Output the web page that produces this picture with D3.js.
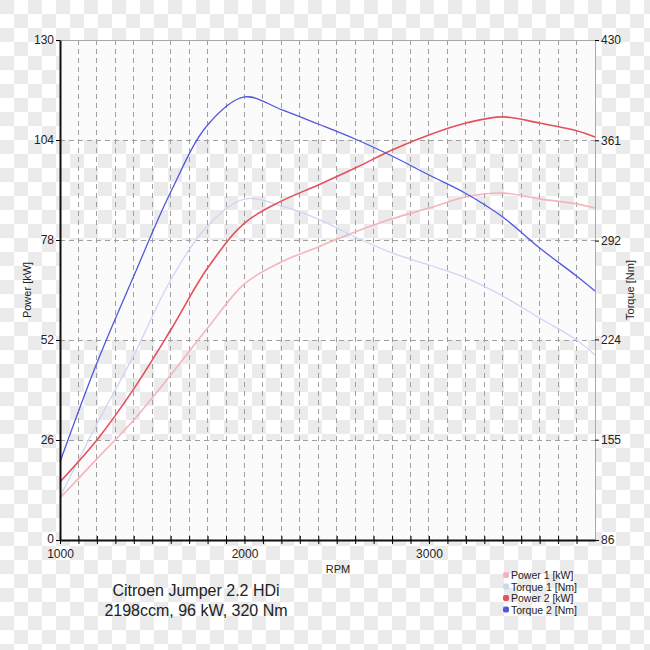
<!DOCTYPE html>
<html>
<head>
<meta charset="utf-8">
<script src="https://cdn.jsdelivr.net/npm/d3@7"></script>
<style>
  html, body { margin: 0; padding: 0; background: #fff; }
  svg text { font-family: "Liberation Sans", Arial, sans-serif; fill: #222; }
</style>
</head>
<body>
<div id="chart"></div>
<script>
// データ-------------------------------------------------------------------------------------
const rpm     = [1000, 1200, 1400, 1600, 1800, 2000, 2200, 2400, 2600, 2800, 3000, 3200, 3400, 3600, 3800, 3900];
const power1  = [10.9, 21.1, 31.2, 42.9, 55.1, 66.6, 72.3, 76.2, 80.1, 83.5, 86.3, 89.2, 90.2, 88.7, 87.4, 86.3];
const torque1 = [115.6, 165.8, 213.0, 264.9, 302.0, 320.6, 315.8, 306.8, 294.5, 283.5, 275.2, 266.3, 253.9, 238.7, 223.6, 213.3];
const power2  = [15.1, 26.0, 39.3, 54.6, 70.7, 82.4, 88.1, 92.3, 96.7, 101.4, 105.3, 108.4, 110.0, 108.4, 106.4, 104.8];
const torque2 = [139.7, 207.8, 267.6, 325.4, 371.5, 390.8, 382.1, 372.2, 361.9, 350.2, 337.1, 324.4, 308.2, 286.9, 267.6, 257.3];
const powerTicks  = [0, 26, 52, 78, 104, 130];
const torqueTicks = [86, 155, 224, 292, 361, 430];
const rpmLabels   = [1000, 2000, 3000];
const legendNames = ['Power 1 [kW]', 'Torque 1 [Nm]', 'Power 2 [kW]', 'Torque 2 [Nm]'];
const titleLines  = ['Citroen Jumper 2.2 HDi', '2198ccm, 96 kW, 320 Nm'];

const width = 650, height = 650;
const margin = { top: 40, bottom: 110, left: 60, right: 55 };
const colors = ['#f5b3bb', '#cdd5f6', '#e5505c', '#5057df'];

const svg = d3.select('#chart').append('svg')
  .attr('width', width)
  .attr('height', height);

// 市松模様の背景----------------------------------------------------------------------------
const defs = svg.append('defs');
const pat = defs.append('pattern')
  .attr('id', 'checker')
  .attr('width', 28).attr('height', 28)
  .attr('patternUnits', 'userSpaceOnUse');
pat.append('rect').attr('width', 28).attr('height', 28).attr('fill', '#ffffff');
pat.append('rect').attr('width', 14).attr('height', 14).attr('fill', '#ebebeb');
pat.append('rect').attr('x', 14).attr('y', 14).attr('width', 14).attr('height', 14).attr('fill', '#ebebeb');
svg.append('rect').attr('width', width).attr('height', height).attr('fill', 'url(#checker)');

// スケール------------------------------------------------------------------------------------
const xScale = d3.scaleLinear().domain([1000, 3900]).range([margin.left, width - margin.right]);
const yPower = d3.scaleLinear().domain([0, 130]).range([height - margin.bottom, margin.top]);
const yTorque = d3.scaleLinear().domain([86, 430]).range([height - margin.bottom, margin.top]);

// 帯 (白い帯と透明な帯が交互)------------------------------------------------------------
const bands = d3.pairs(powerTicks).filter((d, i) => i % 2 === 0);
svg.append('g').selectAll('rect').data(bands).enter().append('rect')
  .attr('x', xScale(1000))
  .attr('width', xScale(3900) - xScale(1000))
  .attr('y', d => yPower(d[1]))
  .attr('height', d => yPower(d[0]) - yPower(d[1]))
  .attr('fill', '#fbfbfb');

// グリッド------------------------------------------------------------------------------------
const gridRpm = d3.range(1100, 3900, 100);
svg.append('g').selectAll('line').data(gridRpm).enter().append('line')
  .attr('x1', d => xScale(d)).attr('x2', d => xScale(d))
  .attr('y1', yPower(130)).attr('y2', yPower(0))
  .attr('stroke', '#a0a0a0').attr('stroke-width', 1)
  .attr('stroke-dasharray', '5,4')
  .attr('shape-rendering', 'crispEdges');
svg.append('g').selectAll('line').data(powerTicks.slice(1, -1)).enter().append('line')
  .attr('x1', xScale(1000)).attr('x2', xScale(3900))
  .attr('y1', d => yPower(d)).attr('y2', d => yPower(d))
  .attr('stroke', '#a0a0a0').attr('stroke-width', 1)
  .attr('stroke-dasharray', '5,4')
  .attr('shape-rendering', 'crispEdges');
// 上枠・右枠
svg.append('line')
  .attr('x1', xScale(1000)).attr('x2', xScale(3900))
  .attr('y1', yPower(130)).attr('y2', yPower(130))
  .attr('stroke', '#aaa').attr('shape-rendering', 'crispEdges');
svg.append('line')
  .attr('x1', xScale(3900)).attr('x2', xScale(3900))
  .attr('y1', yPower(130)).attr('y2', yPower(0))
  .attr('stroke', '#aaa').attr('shape-rendering', 'crispEdges');

// 曲線---------------------------------------------------------------------------------------
const series = [
  { values: power1, scale: yPower, w: 1.6 },
  { values: torque1, scale: yTorque, w: 1.3 },
  { values: power2, scale: yPower, w: 1.6 },
  { values: torque2, scale: yTorque, w: 1.3 }
];
series.forEach((s, k) => {
  const line = d3.line()
    .x((d, i) => xScale(rpm[i]))
    .y(d => s.scale(d))
    .curve(d3.curveCatmullRom.alpha(0.5));
  svg.append('path')
    .datum(s.values)
    .attr('d', line)
    .attr('fill', 'none')
    .attr('stroke', colors[k])
    .attr('stroke-width', s.w);
});

// 軸------------------------------------------------------------------------------------------
const axisLeft = d3.axisLeft(yPower).tickValues(powerTicks).tickSize(4).tickSizeOuter(0);
const gL = svg.append('g')
  .attr('transform', 'translate(' + margin.left + ',0)')
  .call(axisLeft);
gL.select('.domain').attr('stroke', '#111').attr('stroke-width', 2);

const axisRight = d3.axisRight(yTorque).tickValues(torqueTicks).tickSize(4).tickSizeOuter(0);
const gR = svg.append('g')
  .attr('transform', 'translate(' + (width - margin.right) + ',0)')
  .call(axisRight);
gR.select('.domain').attr('stroke', '#aaa');

const axisBottom = d3.axisBottom(xScale)
  .tickValues(d3.range(1000, 3900, 100))
  .tickSize(4).tickSizeOuter(0)
  .tickFormat(d => rpmLabels.includes(d) ? d : '');
const gB = svg.append('g')
  .attr('transform', 'translate(0,' + (height - margin.bottom) + ')')
  .call(axisBottom);
gB.select('.domain').attr('stroke', '#111').attr('stroke-width', 2);
gB.selectAll('.tick line').attr('y1', -4);

svg.selectAll('.tick text').attr('font-size', '12px').attr('fill', '#222')
  .style('font-family', '"Liberation Sans", Arial, sans-serif');
gL.selectAll('.tick text').attr('x', -6);
gL.selectAll('.tick').filter(d => d === 0).select('text').attr('dy', '0.2em');
gR.selectAll('.tick text').attr('x', 6);
gB.selectAll('.tick text').attr('y', 9);

// 軸ラベル------------------------------------------------------------------------------------
svg.append('text')
  .attr('transform', 'translate(31,' + yPower(65) + ') rotate(-90)')
  .attr('text-anchor', 'middle')
  .attr('font-size', '11px')
  .text('Power [kW]');
svg.append('text')
  .attr('transform', 'translate(634,' + yPower(65) + ') rotate(-90)')
  .attr('text-anchor', 'middle')
  .attr('font-size', '11px')
  .text('Torque [Nm]');
svg.append('text')
  .attr('x', 338).attr('y', 573)
  .attr('text-anchor', 'middle')
  .attr('font-size', '11px')
  .text('RPM');

// タイトル------------------------------------------------------------------------------------
svg.append('g').selectAll('text').data(titleLines).enter().append('text')
  .attr('x', 196)
  .attr('y', (d, i) => 596 + i * 20)
  .attr('text-anchor', 'middle')
  .attr('font-size', '16px')
  .text(d => d);

// 凡例---------------------------------------------------------------------------------------
const lg = svg.append('g').attr('transform', 'translate(503,570)');
legendNames.forEach((name, i) => {
  lg.append('rect')
    .attr('x', 0).attr('y', i * 11.5 + 2)
    .attr('width', 6).attr('height', 6)
    .attr('rx', 2)
    .attr('fill', colors[i]);
  lg.append('text')
    .attr('x', 8).attr('y', i * 11.5 + 9)
    .attr('font-size', '10.5px')
    .text(name);
});
</script>
</body>
</html>
